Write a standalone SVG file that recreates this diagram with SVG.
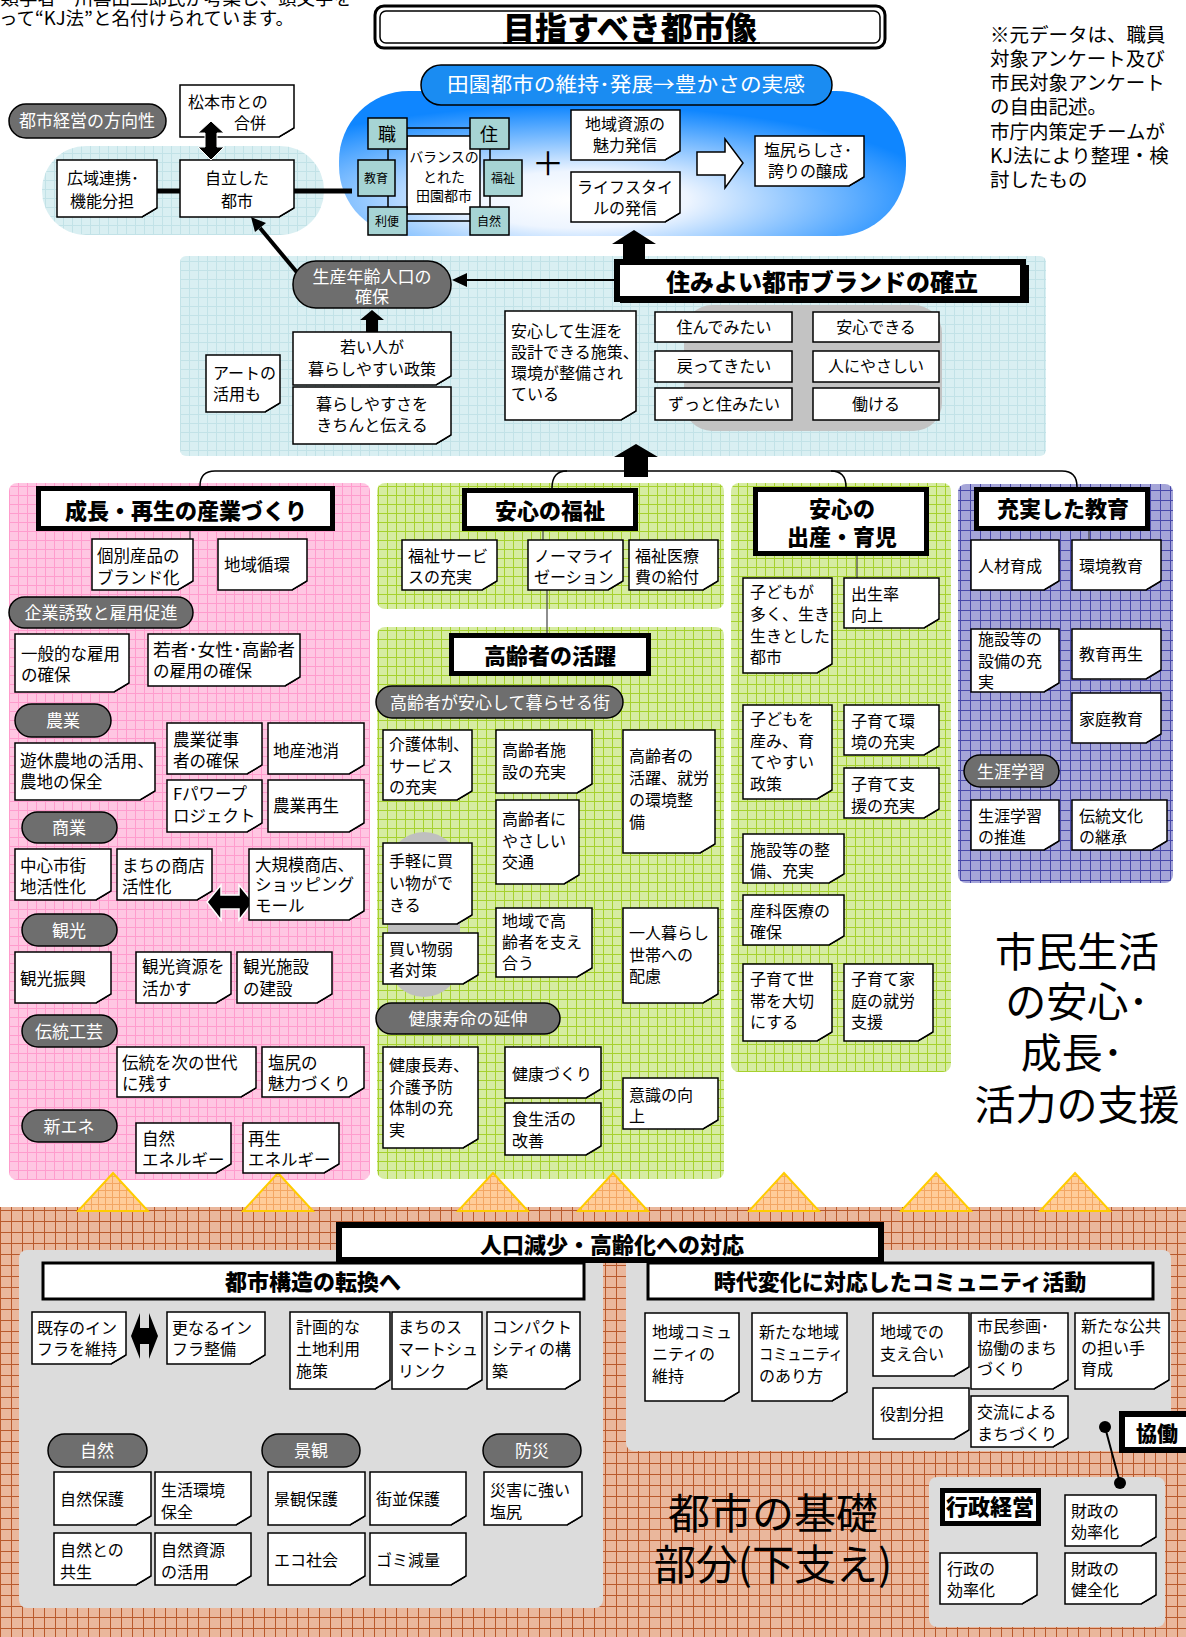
<svg xmlns="http://www.w3.org/2000/svg" xmlns:xlink="http://www.w3.org/1999/xlink" width="1186" height="1637" viewBox="0 0 1186 1637">
<style>
text{font-family:"Noto Sans CJK JP","Noto Sans CJK SC",sans-serif;fill:#000}
.t{font-size:16px}
.tp{font-size:16.5px}
.c{text-anchor:middle}
.w{fill:#fff;font-size:17px;text-anchor:middle}
.h{font-weight:900;font-size:22px;text-anchor:middle}
.n{fill:#fff;stroke:#000;stroke-width:1.5}
.p{fill:#6e6e6e;stroke:#000;stroke-width:1.5}
.hb{fill:#fff;stroke:#000;stroke-width:5}
.hb3{fill:#fff;stroke:#000;stroke-width:3}
.b{fill:#fff;stroke:#000;stroke-width:1.5}
.tq{fill:#a6d4d4;stroke:#000;stroke-width:1.5}
.ln{stroke:#000;stroke-width:1.5;fill:none}
.tri{fill:url(#or);stroke:#ffcc00;stroke-width:2}
</style>
<defs>
<pattern id="pk" width="9" height="9" patternUnits="userSpaceOnUse"><rect width="9" height="9" fill="#ffc6e2"/><path d="M0,0.5H9M0.5,0V9" stroke="#ff9ccd" stroke-width="1"/></pattern>
<pattern id="gr" width="9" height="9" patternUnits="userSpaceOnUse"><rect width="9" height="9" fill="#d6eca2"/><path d="M0,0.5H9M0.5,0V9" stroke="#a6d12e" stroke-width="1"/></pattern>
<pattern id="pu" width="10" height="10" patternUnits="userSpaceOnUse"><rect width="10" height="10" fill="#a5a5d8"/><path d="M0,0.5H10M0.5,0V10" stroke="#4848aa" stroke-width="1"/></pattern>
<pattern id="bl" width="9" height="9" patternUnits="userSpaceOnUse"><rect width="9" height="9" fill="#d9eff2"/><path d="M0,0.5H9M0.5,0V9" stroke="#c2e2e7" stroke-width="1"/></pattern>
<pattern id="br" width="11" height="11" patternUnits="userSpaceOnUse"><rect width="11" height="11" fill="#eab79c"/><path d="M0,0.5H11M0.5,0V11" stroke="#b9592c" stroke-width="1"/></pattern>
<pattern id="or" width="7" height="7" patternUnits="userSpaceOnUse"><rect width="7" height="7" fill="#ffcc99"/><path d="M0,0.5H7M0.5,0V7" stroke="#f3a663" stroke-width="1"/></pattern>
<radialGradient id="cloud" cx="0.42" cy="0.75" r="0.65" fx="0.42" fy="0.75">
<stop offset="0" stop-color="#ffffff"/><stop offset="0.3" stop-color="#eef5ff"/><stop offset="1" stop-color="#0f86ff"/>
</radialGradient>
<path id="cu" d="M0,-9 L-15,0 L-6,-5 Z" fill="#c8c8c8" stroke="#000" stroke-width="1" stroke-linejoin="round"/>
</defs>

<rect width="1186" height="1637" fill="#fff"/>

<!-- background panels -->
<g id="panels">
<rect x="180" y="256" width="866" height="200" rx="6" fill="url(#bl)"/>
<rect x="42" y="146" width="282" height="89" rx="44" fill="url(#bl)"/>
<rect x="339" y="91" width="567" height="145" rx="70" fill="url(#cloud)"/>
<rect x="684" y="305" width="258" height="126" rx="28" fill="#c3c3c3"/>
<rect x="9" y="483" width="361" height="697" rx="8" fill="url(#pk)"/>
<rect x="377" y="483" width="347" height="126" rx="8" fill="url(#gr)"/>
<rect x="377" y="627" width="347" height="552" rx="8" fill="url(#gr)"/>
<rect x="731" y="483" width="220" height="589" rx="8" fill="url(#gr)"/>
<rect x="958" y="484" width="215" height="399" rx="8" fill="url(#pu)"/>
<rect x="388" y="832" width="72" height="165" rx="36" fill="#bfbfbf"/>
<rect x="0" y="1207" width="1186" height="430" fill="url(#br)"/>
<rect x="19" y="1250" width="584" height="358" rx="8" fill="#dcdcdc"/>
<rect x="626" y="1250" width="545" height="201" rx="8" fill="#dcdcdc"/>
<rect x="929" y="1477" width="236" height="150" rx="8" fill="#dcdcdc"/>
<polygon class="tri" points="113,1173 148,1211 78,1211"/>
<polygon class="tri" points="278,1173 313,1211 243,1211"/>
<polygon class="tri" points="493,1173 528,1211 458,1211"/>
<polygon class="tri" points="613,1173 648,1211 578,1211"/>
<polygon class="tri" points="784,1173 819,1211 749,1211"/>
<polygon class="tri" points="936,1173 971,1211 901,1211"/>
<polygon class="tri" points="1075,1173 1110,1211 1040,1211"/>
</g>

<!-- free texts -->
<g id="notes-text">
<text x="352" y="5" font-size="18.5" text-anchor="end">文化人類学者・川喜田二郎氏が考案し、頭文字を</text>
<text x="294" y="25" font-size="18.5" text-anchor="end">とって“KJ法”と名付けられています。</text>
<text font-size="19.5"><tspan x="990" y="42">※元データは、職員</tspan><tspan x="990" y="66">対象アンケート及び</tspan><tspan x="990" y="90">市民対象アンケート</tspan><tspan x="990" y="114">の自由記述。</tspan><tspan x="990" y="139">市庁内策定チームが</tspan><tspan x="990" y="163">KJ法により整理・検</tspan><tspan x="990" y="187">討したもの</tspan></text>
<text font-size="41" text-anchor="middle"><tspan x="1077" y="967">市民生活</tspan><tspan x="1077" y="1017">の安心･</tspan><tspan x="1072" y="1068">成長･</tspan><tspan x="1077" y="1120">活力の支援</tspan></text>
<text font-size="42" text-anchor="middle"><tspan x="773" y="1529">都市の基礎</tspan><tspan x="773" y="1580">部分(下支え)</tspan></text>
</g>

<!-- connectors -->
<g id="connectors">
<line x1="157" y1="191" x2="180" y2="191" stroke="#000" stroke-width="5"/>
<line x1="294" y1="191" x2="352" y2="191" stroke="#000" stroke-width="5"/>
<line x1="300" y1="276" x2="260" y2="228" stroke="#000" stroke-width="4"/>
<polygon points="251,217 266,223 255,232" fill="#000"/>
<line x1="614" y1="280" x2="462" y2="280" stroke="#000" stroke-width="2"/>
<polygon points="452,280 467,273 467,287" fill="#000"/>
<polygon points="634,230 656,244 645,244 645,262 623,262 623,244 612,244" fill="#000"/>
<polygon points="636,444 658,457 648,457 648,477 624,477 624,457 614,457" fill="#000"/>
<polygon points="372,310 384,320 378,320 378,333 366,333 366,320 360,320" fill="#000"/>
<polygon points="697,152 725,152 725,139 743,163 725,188 725,175 697,175" fill="#fff" stroke="#000" stroke-width="1.5"/>
<path class="ln" d="M200,486 Q200,471 215,471 H1062 Q1077,471 1077,487"/>
<path class="ln" d="M552,488 Q552,471 567,471"/>
<path class="ln" d="M846,487 Q846,471 831,471"/>
<path d="M190,531V539M543,531V540M547,590V635M857,556V578M1089,531V540" stroke="#444" stroke-width="1.2" fill="none"/>
<polygon points="207,902 221,885 221,895 239,895 239,885 253,902 239,920 239,909 221,909 221,920" fill="#000" stroke="#fff" stroke-width="1.5"/>
<polygon points="131,1336 140,1313 140,1328 149,1328 149,1313 158,1336 149,1359 149,1344 140,1344 140,1359" fill="#000"/>
<line x1="1105" y1="1427" x2="1120" y2="1483" stroke="#000" stroke-width="2"/>
<circle cx="1105" cy="1427" r="6" fill="#000"/>
<circle cx="1120" cy="1483" r="6" fill="#000"/>
<text x="548" y="175" font-size="32" text-anchor="middle">＋</text>
</g>

<!-- top section -->
<g id="title">
<rect x="375" y="6" width="510" height="42" rx="9" fill="#fff" stroke="#000" stroke-width="3"/>
<rect x="380" y="11" width="500" height="32" rx="6" fill="none" stroke="#000" stroke-width="1.5"/>
<text x="630" y="40" font-size="32" font-weight="900" text-anchor="middle">目指すべき都市像</text>
<line x1="503" y1="43" x2="760" y2="43" stroke="#000" stroke-width="2"/>
</g>
<g id="pill-hoko"><rect class="p" x="9" y="104" width="157" height="34" rx="17"/><text class="w" x="87" y="127">都市経営の方向性</text></g>
<g id="n-matsumoto"><path class="n" d="M180,85h114v43l-15,9H180z"/><use href="#cu" x="294" y="137"/><text class="t" font-size="17"><tspan x="188" y="108">松本市との</tspan><tspan x="234" y="129">合併</tspan></text></g>
<g id="n-koiki"><path class="n" d="M57,160h100v48l-15,9H57z"/><use href="#cu" x="157" y="217"/><text class="t" font-size="17"><tspan x="67" y="184">広域連携･</tspan><tspan x="70" y="207">機能分担</tspan></text></g>
<g id="n-jiritsu"><path class="n" d="M180,160h114v48l-15,9H180z"/><use href="#cu" x="294" y="217"/><text class="t c" font-size="17"><tspan x="237" y="184">自立した</tspan><tspan x="237" y="207">都市</tspan></text></g>
<g id="arrow-gappei"><polygon points="211,121 224,133 217,133 217,147 224,147 211,160 198,147 205,147 205,133 198,133" fill="#000" stroke="#fff" stroke-width="1"/></g>
<g id="pill-denen"><rect x="421" y="65" width="411" height="40" rx="20" fill="#1a8cf2" stroke="#000" stroke-width="1.5"/><text x="447" y="92" font-size="20" textLength="358" lengthAdjust="spacingAndGlyphs" style="fill:#fff">田園都市の維持･発展→豊かさの実感</text></g>
<g id="balance">
<rect x="388" y="128" width="102" height="93" fill="none" stroke="#000" stroke-width="1.5"/>
<rect class="b" x="407" y="136" width="73" height="78"/>
<text class="c" font-size="14"><tspan x="444" y="162">バランスの</tspan><tspan x="444" y="182">とれた</tspan><tspan x="444" y="201">田園都市</tspan></text>
<rect class="tq" x="368" y="118" width="39" height="31"/><text x="387" y="141" font-size="18" text-anchor="middle">職</text>
<rect class="tq" x="470" y="118" width="39" height="31"/><text x="489" y="141" font-size="18" text-anchor="middle">住</text>
<rect class="tq" x="358" y="160" width="37" height="36"/><text x="376" y="183" font-size="12" text-anchor="middle">教育</text>
<rect class="tq" x="484" y="160" width="38" height="36"/><text x="503" y="183" font-size="12" text-anchor="middle">福祉</text>
<rect class="tq" x="368" y="207" width="39" height="28"/><text x="387" y="226" font-size="12" text-anchor="middle">利便</text>
<rect class="tq" x="470" y="207" width="39" height="28"/><text x="489" y="226" font-size="12" text-anchor="middle">自然</text>
</g>
<g id="n-chiiki-shigen"><path class="n" d="M571,110h109v41l-15,9H571z"/><use href="#cu" x="680" y="160"/><text class="t c"><tspan x="625" y="130">地域資源の</tspan><tspan x="625" y="151">魅力発信</tspan></text></g>
<g id="n-lifestyle"><path class="n" d="M571,172h109v41l-15,9H571z"/><use href="#cu" x="680" y="222"/><text class="t c"><tspan x="625" y="193">ライフスタイ</tspan><tspan x="625" y="214">ルの発信</tspan></text></g>
<g id="n-shiojiri"><path class="n" d="M755,136h109v41l-15,9H755z"/><use href="#cu" x="864" y="186"/><text class="t c"><tspan x="808" y="156">塩尻らしさ･</tspan><tspan x="808" y="177">誇りの醸成</tspan></text></g>

<!-- light blue section -->
<g id="h-sumiyoi"><rect x="620" y="265" width="409" height="38" fill="#000"/><rect x="617" y="262" width="406" height="37" fill="#fff" stroke="#000" stroke-width="6"/><text x="822" y="291" font-size="24" font-weight="900" text-anchor="middle">住みよい都市ブランドの確立</text></g>
<g id="pill-seisan"><rect class="p" x="293" y="261" width="158" height="47" rx="23"/><text class="w" font-size="16"><tspan x="372" y="283">生産年齢人口の</tspan><tspan x="372" y="303">確保</tspan></text></g>
<g id="n-art"><path class="n" d="M206,355h74v48l-15,9H206z"/><use href="#cu" x="280" y="412"/><text class="t"><tspan x="213" y="379">アートの</tspan><tspan x="213" y="400">活用も</tspan></text></g>
<g id="n-wakai"><path class="n" d="M293,332h158v44l-15,9H293z"/><use href="#cu" x="451" y="385"/><text class="t c"><tspan x="372" y="353">若い人が</tspan><tspan x="372" y="375">暮らしやすい政策</tspan></text></g>
<g id="n-kurashi"><path class="n" d="M293,387h158v48l-15,9H293z"/><use href="#cu" x="451" y="444"/><text class="t c"><tspan x="372" y="410">暮らしやすさを</tspan><tspan x="372" y="431">きちんと伝える</tspan></text></g>
<g id="n-anshin-shogai"><path class="n" d="M505,311h131v100l-15,9H505z"/><use href="#cu" x="636" y="420"/><text class="t" font-size="15.5"><tspan x="511" y="337">安心して生涯を</tspan><tspan x="511" y="358">設計できる施策、</tspan><tspan x="511" y="379">環境が整備され</tspan><tspan x="511" y="400">ている</tspan></text></g>
<g id="b-sundemitai"><rect class="b" x="655" y="312" width="137" height="30"/><text class="t c" x="724" y="333">住んでみたい</text></g>
<g id="b-anshin"><rect class="b" x="813" y="312" width="126" height="30"/><text class="t c" x="876" y="333">安心できる</text></g>
<g id="b-modotte"><rect class="b" x="655" y="351" width="137" height="31"/><text class="t c" x="724" y="372">戻ってきたい</text></g>
<g id="b-hito"><rect class="b" x="813" y="351" width="126" height="31"/><text class="t c" x="876" y="372">人にやさしい</text></g>
<g id="b-zutto"><rect class="b" x="655" y="388" width="137" height="32"/><text class="t c" x="724" y="410">ずっと住みたい</text></g>
<g id="b-hatarakeru"><rect class="b" x="813" y="388" width="126" height="32"/><text class="t c" x="876" y="410">働ける</text></g>

<!-- pink panel -->
<g id="h-sangyo"><rect class="hb" x="38.5" y="488.5" width="294" height="40"/><text class="h" x="186" y="519">成長・再生の産業づくり</text></g>
<g id="n-kobetsu"><path class="n" d="M92,539h101v42l-15,9H92z"/><use href="#cu" x="193" y="590"/><text class="tp"><tspan x="97" y="562">個別産品の</tspan><tspan x="97" y="584">ブランド化</tspan></text></g>
<g id="n-junkan"><path class="n" d="M218,539h89v42l-15,9H218z"/><use href="#cu" x="307" y="590"/><text class="tp" x="224" y="571">地域循環</text></g>
<g id="pill-kigyo"><rect class="p" x="9" y="597" width="184" height="31" rx="15.5"/><text class="w" x="101" y="619">企業誘致と雇用促進</text></g>
<g id="n-ippan"><path class="n" d="M15,634h114v49l-15,9H15z"/><use href="#cu" x="129" y="692"/><text class="tp"><tspan x="21" y="660">一般的な雇用</tspan><tspan x="21" y="681">の確保</tspan></text></g>
<g id="n-wakamono"><path class="n" d="M148,634h152v43l-15,9H148z"/><use href="#cu" x="300" y="686"/><text class="tp"><tspan x="153" y="656" textLength="142" lengthAdjust="spacingAndGlyphs">若者･女性･高齢者</tspan><tspan x="153" y="677">の雇用の確保</tspan></text></g>
<g id="pill-nogyo"><rect class="p" x="15" y="704" width="96" height="33" rx="16.5"/><text class="w" x="63" y="727">農業</text></g>
<g id="n-jujisha"><path class="n" d="M167,723h95v42l-15,9H167z"/><use href="#cu" x="262" y="774"/><text class="tp"><tspan x="173" y="746">農業従事</tspan><tspan x="173" y="767">者の確保</tspan></text></g>
<g id="n-chisan"><path class="n" d="M268,723h96v42l-15,9H268z"/><use href="#cu" x="364" y="774"/><text class="tp" x="273" y="757">地産池消</text></g>
<g id="n-yukyu"><path class="n" d="M15,743h140v48l-15,9H15z"/><use href="#cu" x="155" y="800"/><text class="tp"><tspan x="20" y="767" textLength="134" lengthAdjust="spacingAndGlyphs">遊休農地の活用、</tspan><tspan x="20" y="788">農地の保全</tspan></text></g>
<g id="n-fpower"><path class="n" d="M167,780h95v43l-15,9H167z"/><use href="#cu" x="262" y="832"/><text class="tp"><tspan x="173" y="800">Fパワープ</tspan><tspan x="173" y="822">ロジェクト</tspan></text></g>
<g id="n-saisei"><path class="n" d="M268,780h96v43l-15,9H268z"/><use href="#cu" x="364" y="832"/><text class="tp" x="273" y="812">農業再生</text></g>
<g id="pill-shogyo"><rect class="p" x="22" y="812" width="95" height="31" rx="15.5"/><text class="w" x="69" y="834">商業</text></g>
<g id="n-chushin"><path class="n" d="M15,849h96v42l-15,9H15z"/><use href="#cu" x="111" y="900"/><text class="tp"><tspan x="20" y="872">中心市街</tspan><tspan x="20" y="893">地活性化</tspan></text></g>
<g id="n-shoten"><path class="n" d="M117,849h95v42l-15,9H117z"/><use href="#cu" x="212" y="900"/><text class="tp"><tspan x="122" y="872">まちの商店</tspan><tspan x="122" y="893">活性化</tspan></text></g>
<g id="n-daikibo"><path class="n" d="M249,849h115v62l-15,9H249z"/><use href="#cu" x="364" y="920"/><text class="tp"><tspan x="255" y="871">大規模商店、</tspan><tspan x="255" y="891">ショッピング</tspan><tspan x="255" y="912">モール</tspan></text></g>
<g id="pill-kanko"><rect class="p" x="22" y="914" width="95" height="32" rx="16"/><text class="w" x="69" y="937">観光</text></g>
<g id="n-shinko"><path class="n" d="M15,952h96v42l-15,9H15z"/><use href="#cu" x="111" y="1003"/><text class="tp" x="20" y="985">観光振興</text></g>
<g id="n-shigen"><path class="n" d="M136,952h95v42l-15,9H136z"/><use href="#cu" x="231" y="1003"/><text class="tp"><tspan x="142" y="973">観光資源を</tspan><tspan x="142" y="995">活かす</tspan></text></g>
<g id="n-shisetsu"><path class="n" d="M237,952h95v42l-15,9H237z"/><use href="#cu" x="332" y="1003"/><text class="tp"><tspan x="243" y="973">観光施設</tspan><tspan x="243" y="995">の建設</tspan></text></g>
<g id="pill-dento"><rect class="p" x="22" y="1015" width="95" height="32" rx="16"/><text class="w" x="69" y="1038">伝統工芸</text></g>
<g id="n-dento"><path class="n" d="M117,1047h139v41l-15,9H117z"/><use href="#cu" x="256" y="1097"/><text class="tp"><tspan x="122" y="1069">伝統を次の世代</tspan><tspan x="122" y="1090">に残す</tspan></text></g>
<g id="n-miryoku"><path class="n" d="M262,1047h102v41l-15,9H262z"/><use href="#cu" x="364" y="1097"/><text class="tp"><tspan x="268" y="1069">塩尻の</tspan><tspan x="268" y="1090">魅力づくり</tspan></text></g>
<g id="pill-shinene"><rect class="p" x="22" y="1110" width="95" height="32" rx="16"/><text class="w" x="69" y="1133">新エネ</text></g>
<g id="n-shizen-e"><path class="n" d="M136,1123h95v41l-15,9H136z"/><use href="#cu" x="231" y="1173"/><text class="tp"><tspan x="142" y="1145">自然</tspan><tspan x="142" y="1166">エネルギー</tspan></text></g>
<g id="n-saisei-e"><path class="n" d="M243,1123h96v41l-15,9H243z"/><use href="#cu" x="339" y="1173"/><text class="tp"><tspan x="248" y="1145">再生</tspan><tspan x="248" y="1166">エネルギー</tspan></text></g>

<!-- green panels -->
<g id="h-fukushi"><rect class="hb" x="464.5" y="490.5" width="171" height="38"/><text class="h" x="550" y="519">安心の福祉</text></g>
<g id="n-fukushi-s"><path class="n" d="M402,540h95v41l-15,9H402z"/><use href="#cu" x="497" y="590"/><text class="t"><tspan x="408" y="562">福祉サービ</tspan><tspan x="408" y="583">スの充実</tspan></text></g>
<g id="n-normal"><path class="n" d="M528,540h95v41l-15,9H528z"/><use href="#cu" x="623" y="590"/><text class="t"><tspan x="534" y="562">ノーマライ</tspan><tspan x="534" y="583">ゼーション</tspan></text></g>
<g id="n-iryohi"><path class="n" d="M629,540h89v41l-15,9H629z"/><use href="#cu" x="718" y="590"/><text class="t"><tspan x="635" y="562">福祉医療</tspan><tspan x="635" y="583">費の給付</tspan></text></g>
<g id="h-koreisha"><rect class="hb" x="451.5" y="635.5" width="197" height="38"/><text class="h" x="550" y="664">高齢者の活躍</text></g>
<g id="pill-korei"><rect class="p" x="376" y="686" width="247" height="32" rx="16"/><text class="w" x="500" y="709">高齢者が安心して暮らせる街</text></g>
<g id="n-kaigo"><path class="n" d="M383,730h89v61l-15,9H383z"/><use href="#cu" x="472" y="800"/><text class="t"><tspan x="389" y="750">介護体制、</tspan><tspan x="389" y="772">サービス</tspan><tspan x="389" y="793">の充実</tspan></text></g>
<g id="n-korei-shisetsu"><path class="n" d="M496,730h96v54l-15,9H496z"/><use href="#cu" x="592" y="793"/><text class="t"><tspan x="502" y="756">高齢者施</tspan><tspan x="502" y="778">設の充実</tspan></text></g>
<g id="n-katsuyaku"><path class="n" d="M623,730h92v114l-15,9H623z"/><use href="#cu" x="715" y="853"/><text class="t"><tspan x="629" y="762">高齢者の</tspan><tspan x="629" y="784">活躍、就労</tspan><tspan x="629" y="806">の環境整</tspan><tspan x="629" y="828">備</tspan></text></g>
<g id="n-kotsu"><path class="n" d="M496,800h83v75l-15,9H496z"/><use href="#cu" x="579" y="884"/><text class="t"><tspan x="502" y="825">高齢者に</tspan><tspan x="502" y="847">やさしい</tspan><tspan x="502" y="868">交通</tspan></text></g>
<g id="n-tegaru"><path class="n" d="M383,843h89v72l-15,9H383z"/><use href="#cu" x="472" y="924"/><text class="t"><tspan x="389" y="867">手軽に買</tspan><tspan x="389" y="889">い物がで</tspan><tspan x="389" y="911">きる</tspan></text></g>
<g id="n-kaimono"><path class="n" d="M383,933h95v42l-15,9H383z"/><use href="#cu" x="478" y="984"/><text class="t"><tspan x="389" y="955">買い物弱</tspan><tspan x="389" y="976">者対策</tspan></text></g>
<g id="n-sasaeau"><path class="n" d="M496,908h96v60l-15,9H496z"/><use href="#cu" x="592" y="977"/><text class="t"><tspan x="502" y="927">地域で高</tspan><tspan x="502" y="948">齢者を支え</tspan><tspan x="502" y="969">合う</tspan></text></g>
<g id="n-hitori"><path class="n" d="M623,908h95v86l-15,9H623z"/><use href="#cu" x="718" y="1003"/><text class="t"><tspan x="629" y="939">一人暮らし</tspan><tspan x="629" y="961">世帯への</tspan><tspan x="629" y="982">配慮</tspan></text></g>
<g id="pill-kenko"><rect class="p" x="376" y="1003" width="184" height="31" rx="15.5"/><text class="w" x="468" y="1025">健康寿命の延伸</text></g>
<g id="n-chouju"><path class="n" d="M383,1047h95v92l-15,9H383z"/><use href="#cu" x="478" y="1148"/><text class="t"><tspan x="389" y="1071">健康長寿、</tspan><tspan x="389" y="1093">介護予防</tspan><tspan x="389" y="1114">体制の充</tspan><tspan x="389" y="1136">実</tspan></text></g>
<g id="n-kenkozukuri"><path class="n" d="M505,1047h96v42l-15,9H505z"/><use href="#cu" x="601" y="1098"/><text class="t" x="512" y="1080">健康づくり</text></g>
<g id="n-shoku"><path class="n" d="M505,1103h96v43l-15,9H505z"/><use href="#cu" x="601" y="1155"/><text class="t"><tspan x="512" y="1125">食生活の</tspan><tspan x="512" y="1147">改善</tspan></text></g>
<g id="n-ishiki"><path class="n" d="M623,1078h95v42l-15,9H623z"/><use href="#cu" x="718" y="1129"/><text class="t"><tspan x="629" y="1101">意識の向</tspan><tspan x="629" y="1122">上</tspan></text></g>

<g id="h-shussan"><rect class="hb" x="755.5" y="489.5" width="171" height="64"/><text class="h"><tspan x="842" y="517">安心の</tspan><tspan x="842" y="545">出産・育児</tspan></text></g>
<g id="n-kodomo-ooku"><path class="n" d="M743,578h89v86l-15,9H743z"/><use href="#cu" x="832" y="673"/><text class="t"><tspan x="750" y="598">子どもが</tspan><tspan x="750" y="620">多く、生き</tspan><tspan x="750" y="642">生きとした</tspan><tspan x="750" y="663">都市</tspan></text></g>
<g id="n-shusshoritsu"><path class="n" d="M844,578h95v41l-15,9H844z"/><use href="#cu" x="939" y="628"/><text class="t"><tspan x="851" y="600">出生率</tspan><tspan x="851" y="621">向上</tspan></text></g>
<g id="n-umi"><path class="n" d="M743,705h89v85l-15,9H743z"/><use href="#cu" x="832" y="799"/><text class="t"><tspan x="750" y="725">子どもを</tspan><tspan x="750" y="747">産み、育</tspan><tspan x="750" y="768">てやすい</tspan><tspan x="750" y="790">政策</tspan></text></g>
<g id="n-kosodate-kankyo"><path class="n" d="M844,705h95v41l-15,9H844z"/><use href="#cu" x="939" y="755"/><text class="t"><tspan x="851" y="727">子育て環</tspan><tspan x="851" y="748">境の充実</tspan></text></g>
<g id="n-kosodate-shien"><path class="n" d="M844,768h95v41l-15,9H844z"/><use href="#cu" x="939" y="818"/><text class="t"><tspan x="851" y="790">子育て支</tspan><tspan x="851" y="812">援の充実</tspan></text></g>
<g id="n-shisetsu-seibi"><path class="n" d="M743,834h101v40l-15,9H743z"/><use href="#cu" x="844" y="883"/><text class="t"><tspan x="750" y="856">施設等の整</tspan><tspan x="750" y="877">備、充実</tspan></text></g>
<g id="n-sanka"><path class="n" d="M743,895h101v41l-15,9H743z"/><use href="#cu" x="844" y="945"/><text class="t"><tspan x="750" y="917">産科医療の</tspan><tspan x="750" y="938">確保</tspan></text></g>
<g id="n-setai"><path class="n" d="M743,964h89v68l-15,9H743z"/><use href="#cu" x="832" y="1041"/><text class="t"><tspan x="750" y="985">子育て世</tspan><tspan x="750" y="1007">帯を大切</tspan><tspan x="750" y="1028">にする</tspan></text></g>
<g id="n-shuro"><path class="n" d="M844,964h89v68l-15,9H844z"/><use href="#cu" x="933" y="1041"/><text class="t"><tspan x="851" y="985">子育て家</tspan><tspan x="851" y="1007">庭の就労</tspan><tspan x="851" y="1028">支援</tspan></text></g>

<!-- purple panel -->
<g id="h-kyoiku"><rect class="hb" x="976.5" y="489.5" width="171" height="39"/><text class="h" font-size="20" x="1063" y="517">充実した教育</text></g>
<g id="n-jinzai"><path class="n" d="M971,540h88v41l-15,9H971z"/><use href="#cu" x="1059" y="590"/><text class="t" x="978" y="572">人材育成</text></g>
<g id="n-kankyo"><path class="n" d="M1072,540h89v41l-15,9H1072z"/><use href="#cu" x="1161" y="590"/><text class="t" x="1079" y="572">環境教育</text></g>
<g id="n-setsubi"><path class="n" d="M971,629h88v54l-15,9H971z"/><use href="#cu" x="1059" y="692"/><text class="t"><tspan x="978" y="645">施設等の</tspan><tspan x="978" y="667">設備の充</tspan><tspan x="978" y="688">実</tspan></text></g>
<g id="n-kyoiku-saisei"><path class="n" d="M1072,629h89v41l-15,9H1072z"/><use href="#cu" x="1161" y="679"/><text class="t" x="1079" y="660">教育再生</text></g>
<g id="n-katei"><path class="n" d="M1072,693h89v41l-15,9H1072z"/><use href="#cu" x="1161" y="743"/><text class="t" x="1079" y="725">家庭教育</text></g>
<g id="pill-shogai"><rect class="p" x="964" y="755" width="95" height="32" rx="16"/><text class="w" x="1011" y="778">生涯学習</text></g>
<g id="n-shogai"><path class="n" d="M971,800h88v41l-15,9H971z"/><use href="#cu" x="1059" y="850"/><text class="t"><tspan x="978" y="822">生涯学習</tspan><tspan x="978" y="843">の推進</tspan></text></g>
<g id="n-bunka"><path class="n" d="M1072,800h95v41l-15,9H1072z"/><use href="#cu" x="1167" y="850"/><text class="t"><tspan x="1079" y="822">伝統文化</tspan><tspan x="1079" y="843">の継承</tspan></text></g>

<!-- bottom section -->
<g id="h-toshikozo"><rect class="hb3" x="43" y="1263" width="541" height="36"/><text class="h" font-size="21" x="313" y="1290">都市構造の転換へ</text></g>
<g id="h-jidai"><rect class="hb3" x="648" y="1263" width="505" height="36"/><text class="h" font-size="21" x="900" y="1290">時代変化に対応したコミュニティ活動</text></g>
<g id="h-jinko"><rect fill="#fff" stroke="#000" stroke-width="6" x="339" y="1225" width="542" height="35"/><text class="h" font-size="21" x="612" y="1253">人口減少・高齢化への対応</text></g>
<g id="n-kison"><path class="n" d="M32,1312h94v43l-15,9H32z"/><use href="#cu" x="126" y="1364"/><text class="t"><tspan x="37" y="1334">既存のイン</tspan><tspan x="37" y="1355">フラを維持</tspan></text></g>
<g id="n-sara"><path class="n" d="M167,1312h98v43l-15,9H167z"/><use href="#cu" x="265" y="1364"/><text class="t"><tspan x="172" y="1334">更なるイン</tspan><tspan x="172" y="1355">フラ整備</tspan></text></g>
<g id="n-keikaku"><path class="n" d="M290,1312h100v68l-15,9H290z"/><use href="#cu" x="390" y="1389"/><text class="t"><tspan x="296" y="1333">計画的な</tspan><tspan x="296" y="1355">土地利用</tspan><tspan x="296" y="1377">施策</tspan></text></g>
<g id="n-smart"><path class="n" d="M392,1312h90v68l-15,9H392z"/><use href="#cu" x="482" y="1389"/><text class="t"><tspan x="398" y="1333">まちのス</tspan><tspan x="398" y="1355">マートシュ</tspan><tspan x="398" y="1377">リンク</tspan></text></g>
<g id="n-compact"><path class="n" d="M487,1312h93v68l-15,9H487z"/><use href="#cu" x="580" y="1389"/><text class="t"><tspan x="492" y="1333">コンパクト</tspan><tspan x="492" y="1355">シティの構</tspan><tspan x="492" y="1377">築</tspan></text></g>
<g id="pill-shizen"><rect class="p" x="48" y="1434" width="99" height="33" rx="16.5"/><text class="w" x="97" y="1457">自然</text></g>
<g id="pill-keikan"><rect class="p" x="262" y="1434" width="98" height="33" rx="16.5"/><text class="w" x="311" y="1457">景観</text></g>
<g id="pill-bosai"><rect class="p" x="483" y="1434" width="98" height="33" rx="16.5"/><text class="w" x="532" y="1457">防災</text></g>
<g id="n-shizen-hogo"><path class="n" d="M54,1472h97v44l-15,9H54z"/><use href="#cu" x="151" y="1525"/><text class="t" x="60" y="1505">自然保護</text></g>
<g id="n-seikatsu"><path class="n" d="M155,1472h96v44l-15,9H155z"/><use href="#cu" x="251" y="1525"/><text class="t"><tspan x="161" y="1496">生活環境</tspan><tspan x="161" y="1518">保全</tspan></text></g>
<g id="n-keikan-hogo"><path class="n" d="M268,1472h97v44l-15,9H268z"/><use href="#cu" x="365" y="1525"/><text class="t" x="274" y="1505">景観保護</text></g>
<g id="n-machinami"><path class="n" d="M370,1472h96v44l-15,9H370z"/><use href="#cu" x="466" y="1525"/><text class="t" x="376" y="1505">街並保護</text></g>
<g id="n-saigai"><path class="n" d="M484,1472h98v44l-15,9H484z"/><use href="#cu" x="582" y="1525"/><text class="t"><tspan x="490" y="1496">災害に強い</tspan><tspan x="490" y="1518">塩尻</tspan></text></g>
<g id="n-kyosei"><path class="n" d="M54,1533h97v43l-15,9H54z"/><use href="#cu" x="151" y="1585"/><text class="t"><tspan x="60" y="1556">自然との</tspan><tspan x="60" y="1578">共生</tspan></text></g>
<g id="n-shizen-shigen"><path class="n" d="M155,1533h96v43l-15,9H155z"/><use href="#cu" x="251" y="1585"/><text class="t"><tspan x="161" y="1556">自然資源</tspan><tspan x="161" y="1578">の活用</tspan></text></g>
<g id="n-eco"><path class="n" d="M268,1533h97v43l-15,9H268z"/><use href="#cu" x="365" y="1585"/><text class="t" x="274" y="1566">エコ社会</text></g>
<g id="n-gomi"><path class="n" d="M370,1533h96v43l-15,9H370z"/><use href="#cu" x="466" y="1585"/><text class="t" x="376" y="1566">ゴミ減量</text></g>
<g id="n-community"><path class="n" d="M645,1313h94v79l-15,9H645z"/><use href="#cu" x="739" y="1401"/><text class="t"><tspan x="652" y="1338">地域コミュ</tspan><tspan x="652" y="1360">ニティの</tspan><tspan x="652" y="1382">維持</tspan></text></g>
<g id="n-aratana"><path class="n" d="M752,1313h95v79l-15,9H752z"/><use href="#cu" x="847" y="1401"/><text class="t"><tspan x="759" y="1338">新たな地域</tspan><tspan x="759" y="1360" textLength="84" lengthAdjust="spacingAndGlyphs">コミュニティ</tspan><tspan x="759" y="1382">のあり方</tspan></text></g>
<g id="n-sasaeai"><path class="n" d="M873,1313h96v54l-15,9H873z"/><use href="#cu" x="969" y="1376"/><text class="t"><tspan x="880" y="1338">地域での</tspan><tspan x="880" y="1360">支え合い</tspan></text></g>
<g id="n-shimin"><path class="n" d="M971,1313h97v67l-15,9H971z"/><use href="#cu" x="1068" y="1389"/><text class="t"><tspan x="977" y="1332">市民参画･</tspan><tspan x="977" y="1354">協働のまち</tspan><tspan x="977" y="1375">づくり</tspan></text></g>
<g id="n-kokyo"><path class="n" d="M1075,1313h94v67l-15,9H1075z"/><use href="#cu" x="1169" y="1389"/><text class="t"><tspan x="1081" y="1332">新たな公共</tspan><tspan x="1081" y="1354">の担い手</tspan><tspan x="1081" y="1375">育成</tspan></text></g>
<g id="n-yakuwari"><path class="n" d="M873,1388h96v42l-15,9H873z"/><use href="#cu" x="969" y="1439"/><text class="t" x="880" y="1420">役割分担</text></g>
<g id="n-koryu"><path class="n" d="M971,1396h97v42l-15,9H971z"/><use href="#cu" x="1068" y="1447"/><text class="t"><tspan x="977" y="1418">交流による</tspan><tspan x="977" y="1440">まちづくり</tspan></text></g>
<g id="h-kyodo"><rect fill="#fff" stroke="#000" stroke-width="6" x="1122" y="1414" width="72" height="36"/><text x="1136" y="1441" font-size="21" font-weight="900">協働</text></g>
<g id="h-gyosei"><rect class="hb" x="942.5" y="1490.5" width="96" height="33"/><text class="h" font-size="20" x="990" y="1515">行政経営</text></g>
<g id="n-zaisei-koritsu"><path class="n" d="M1065,1495h91v42l-15,9H1065z"/><use href="#cu" x="1156" y="1546"/><text class="t"><tspan x="1071" y="1517">財政の</tspan><tspan x="1071" y="1538">効率化</tspan></text></g>
<g id="n-gyosei-koritsu"><path class="n" d="M940,1553h97v42l-15,9H940z"/><use href="#cu" x="1037" y="1604"/><text class="t"><tspan x="947" y="1575">行政の</tspan><tspan x="947" y="1596">効率化</tspan></text></g>
<g id="n-kenzen"><path class="n" d="M1065,1553h91v42l-15,9H1065z"/><use href="#cu" x="1156" y="1604"/><text class="t"><tspan x="1071" y="1575">財政の</tspan><tspan x="1071" y="1596">健全化</tspan></text></g>
</svg>
